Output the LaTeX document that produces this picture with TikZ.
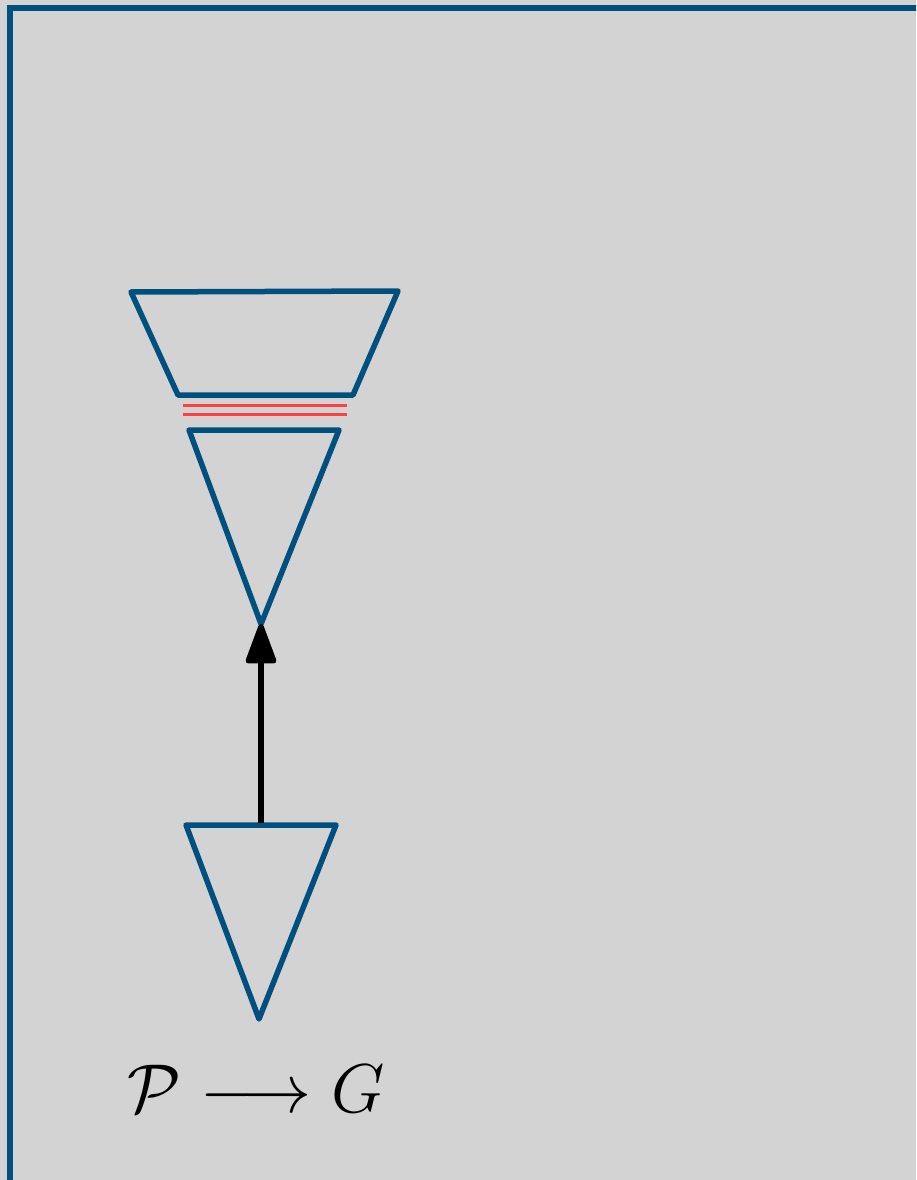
\documentclass[tikz,border=0pt]{standalone}
\usepackage{amsmath}
\usetikzlibrary{arrows.meta}
\definecolor{frameblue}{RGB}{0,80,127}
\definecolor{panelgray}{RGB}{211,211,211}
\definecolor{seamred}{RGB}{255,64,64}
\begin{document}
\begin{tikzpicture}[x=0.3pt, y=-0.3pt,
    outline/.style={draw=frameblue, line width=1.65pt, line join=round},
    seam/.style={draw=seamred, line width=0.9pt},
    lift/.style={draw=black, line width=1.65pt, -{Triangle[length=13.5pt, width=9.5pt, round]}}]
        \clip (0,0) rectangle (916,1180);
        \fill[panelgray] (0,0) rectangle (916,1180);
        \draw[frameblue, line width=1.9pt] (10,8) rectangle (940,1200);
        % upper trapezoid
        \coordinate (t1) at (131,292);
        \coordinate (t2) at (398,291);
        \coordinate (t3) at (353,395);
        \coordinate (t4) at (178,395);
        \draw[outline] (t1) -- (t2) -- (t3) -- (t4) -- cycle;
        % red lines
        \draw[seam] (183,405) -- (347,405);
        \draw[seam] (183,414) -- (347,414);
        % upper triangle
        \coordinate (a1) at (189,430);
        \coordinate (a2) at (339,430);
        \coordinate (a3) at (261,624);
        \draw[outline] (a1) -- (a2) -- (a3) -- cycle;
        % lower triangle
        \coordinate (b1) at (186,825);
        \coordinate (b2) at (336,825);
        \coordinate (b3) at (259,1019);
        \draw[outline] (b1) -- (b2) -- (b3) -- cycle;
        \coordinate (bm) at (261,823);
        \draw[lift] (bm) -- (a3);
        \node[anchor=base, inner sep=0pt, font=\fontsize{21.5}{25}\selectfont] (map) at (256,1112) {$\mathcal{P} \longrightarrow G$};
    \end{tikzpicture}
\end{document}
